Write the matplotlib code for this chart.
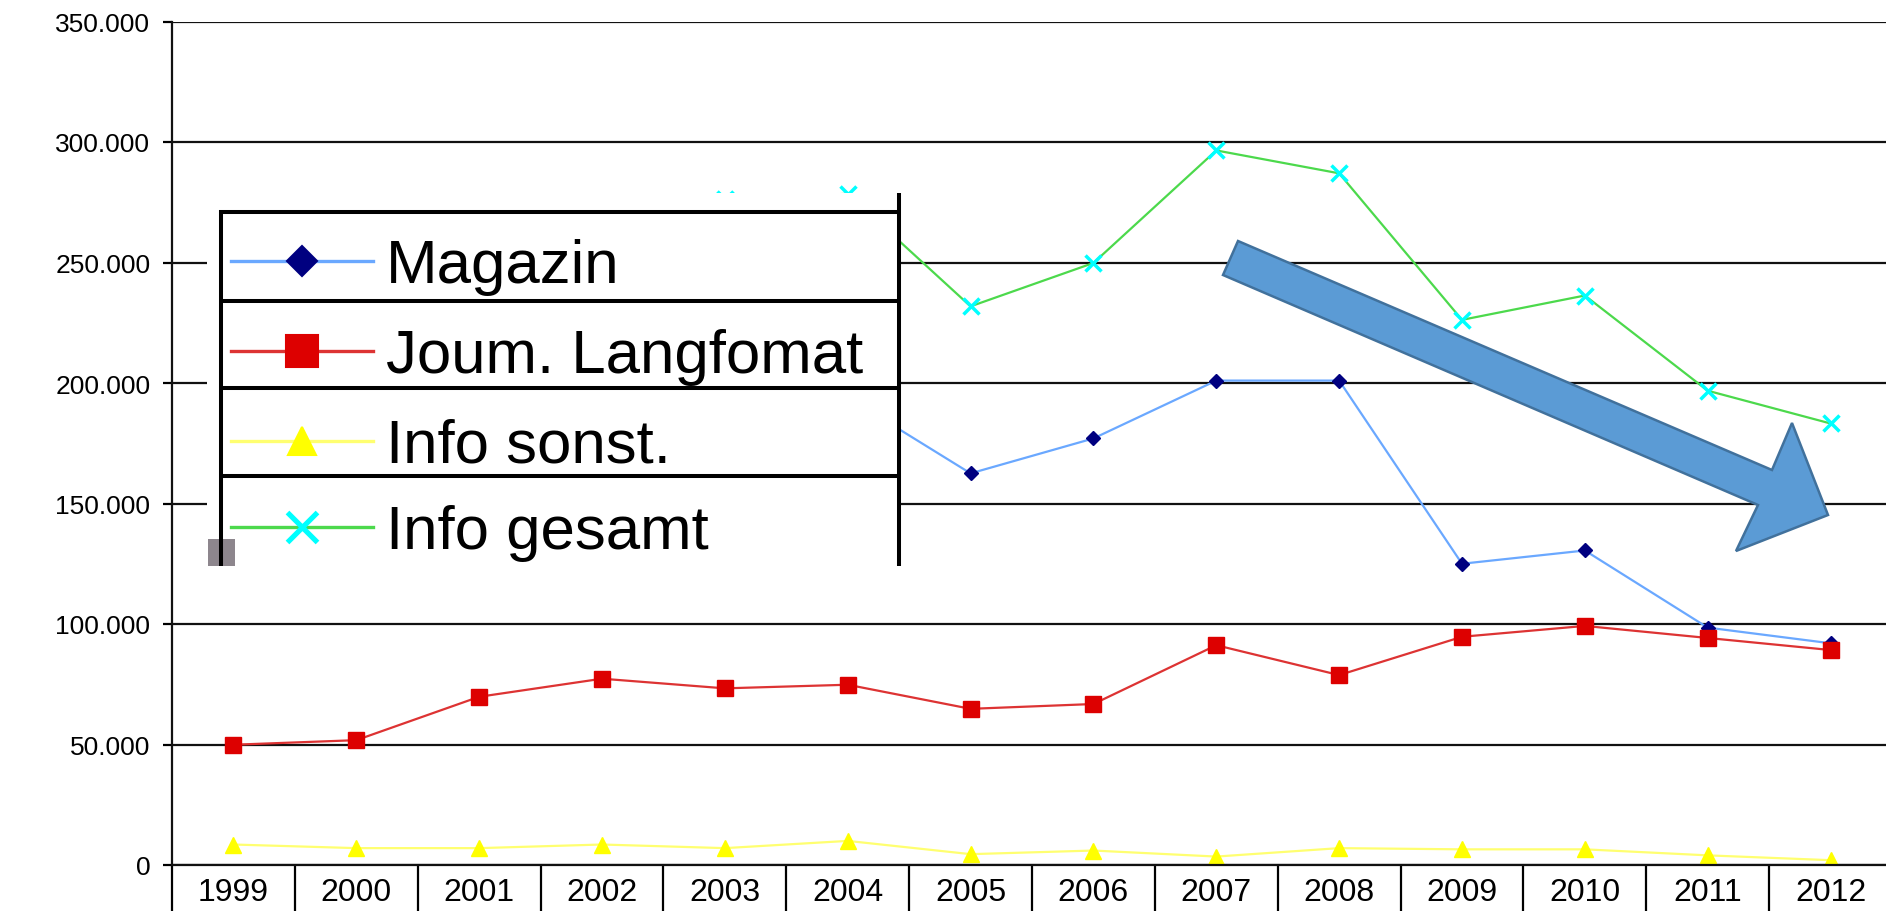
import matplotlib
matplotlib.use('Agg')
import numpy as np
import matplotlib.pyplot as plt
from matplotlib.patches import Rectangle, Polygon
from matplotlib.lines import Line2D

plt.rcParams['font.family'] = ['Liberation Sans', 'DejaVu Sans']

years = ['1999', '2000', '2001', '2002', '2003', '2004', '2005',
         '2006', '2007', '2008', '2009', '2010', '2011', '2012']
# 1999-2002 of Magazin / Info gesamt are hidden behind the legend: rough guesses
magazin = [140000, 150000, 165000, 180000, 196000, 194000, 162500,
           177000, 201000, 201000, 125000, 130500, 98500, 92000]
journ = [49900, 51800, 69800, 77300, 73300, 74800, 64800,
         66800, 91200, 78800, 94700, 99200, 94200, 89200]
info_sonst = [8500, 7000, 7000, 8500, 7000, 10000, 4500,
              6000, 3500, 7000, 6500, 6500, 4000, 2000]
info_gesamt = [198400, 208800, 241800, 265800, 276500, 278500, 231800,
               249800, 296500, 287000, 226200, 236300, 196800, 183200]

labels = ['Magazin', 'Joum. Langfomat', 'Info sonst.', 'Info gesamt']

W, H = 1886, 912
fig = plt.figure(figsize=(W/100, H/100), dpi=100)
ax = fig.add_axes([172/W, (H-866)/H, (1892-172)/W, (866-22.5)/H])

x = np.arange(len(years))
styles = [
    dict(color='#6aa8ff', marker='D', ms=7, mfc='#000080', mec='#000080'),
    dict(color='#dd3333', marker='s', ms=11, mfc='#dd0000', mec='#dd0000'),
    dict(color='#ffff70', marker='^', ms=11, mfc='#ffff00', mec='#ffff00'),
    dict(color='#4cd94c', marker='x', ms=11, mfc='#00ffff', mec='#00ffff', mew=2.5),
]
for vals, st in zip([magazin, journ, info_sonst, info_gesamt], styles):
    ax.plot(x, vals, lw=1.6, **st)

ax.set_ylim(0, 350000)
ax.set_xlim(-0.5, 13.5)
yt = np.arange(0, 350001, 50000)
ax.set_yticks(yt)
ax.set_yticklabels([f'{v:,.0f}'.replace(',', '.') for v in yt], fontsize=19)
ax.set_xticks(x)
ax.set_xticklabels(years, fontsize=23)
ax.set_xticks(np.arange(-0.5, 14, 1), minor=True)
ax.tick_params(axis='x', which='major', length=0, pad=9)
ax.tick_params(axis='x', which='minor', length=34, width=1.6, direction='out')
ax.tick_params(axis='y', length=6.5, width=1.6, direction='out', pad=9)
ax.yaxis.grid(True, color='#111111', lw=1.6)
ax.set_axisbelow(True)
for s in ['top', 'right']:
    ax.spines[s].set_visible(False)
for s in ['left', 'bottom']:
    ax.spines[s].set_linewidth(1.6)
    ax.spines[s].set_color('#111111')

# overlay in pixel coordinates for the pasted legend and the arrow
ov = fig.add_axes([0, 0, 1, 1])
ov.set_xlim(0, W)
ov.set_ylim(H, 0)
ov.axis('off')

cover = Rectangle((207, 194), 899-207, 567-194, fc='white', ec='none')
ov.add_patch(cover)
ov.add_patch(Rectangle((208, 540), 27, 27, fc='#8d868d', ec='none'))
bw = 2.9
ov.plot([219, 901], [213, 213], color='black', lw=bw, solid_capstyle='butt')
ov.plot([221, 221], [211, 567], color='black', lw=bw, solid_capstyle='butt')
ov.plot([899, 899], [194, 567], color='black', lw=bw, solid_capstyle='butt')
for yy in [302, 389, 477]:
    ov.plot([221, 899], [yy, yy], color='black', lw=bw, solid_capstyle='butt')

rows = [262, 352, 442, 528]
leg_ms = [15, 23, 20, 22]
for yy, lab, st, ms in zip(rows, labels, styles, leg_ms):
    ov.add_line(Line2D([231, 373], [yy, yy], color=st['color'], lw=2.4))
    ov.add_line(Line2D([302], [yy], marker=st['marker'], ms=ms,
                       mfc=st['mfc'], mec=st['mec'], mew=st.get('mew', 1) * 1.5,
                       color=st['color']))
    t = ov.text(386, yy + 21, lab, fontsize=44.5, va='baseline', ha='left', color='black')
    t.set_clip_path(cover)

arrow = [(1238, 242), (1772, 471), (1792, 424), (1828, 516),
         (1736, 552), (1758, 506), (1223, 276)]
ov.add_patch(Polygon(arrow, closed=True, fc='#5b9bd5', ec='#41719c', lw=1.8))

fig.savefig('out.png', dpi=100)
